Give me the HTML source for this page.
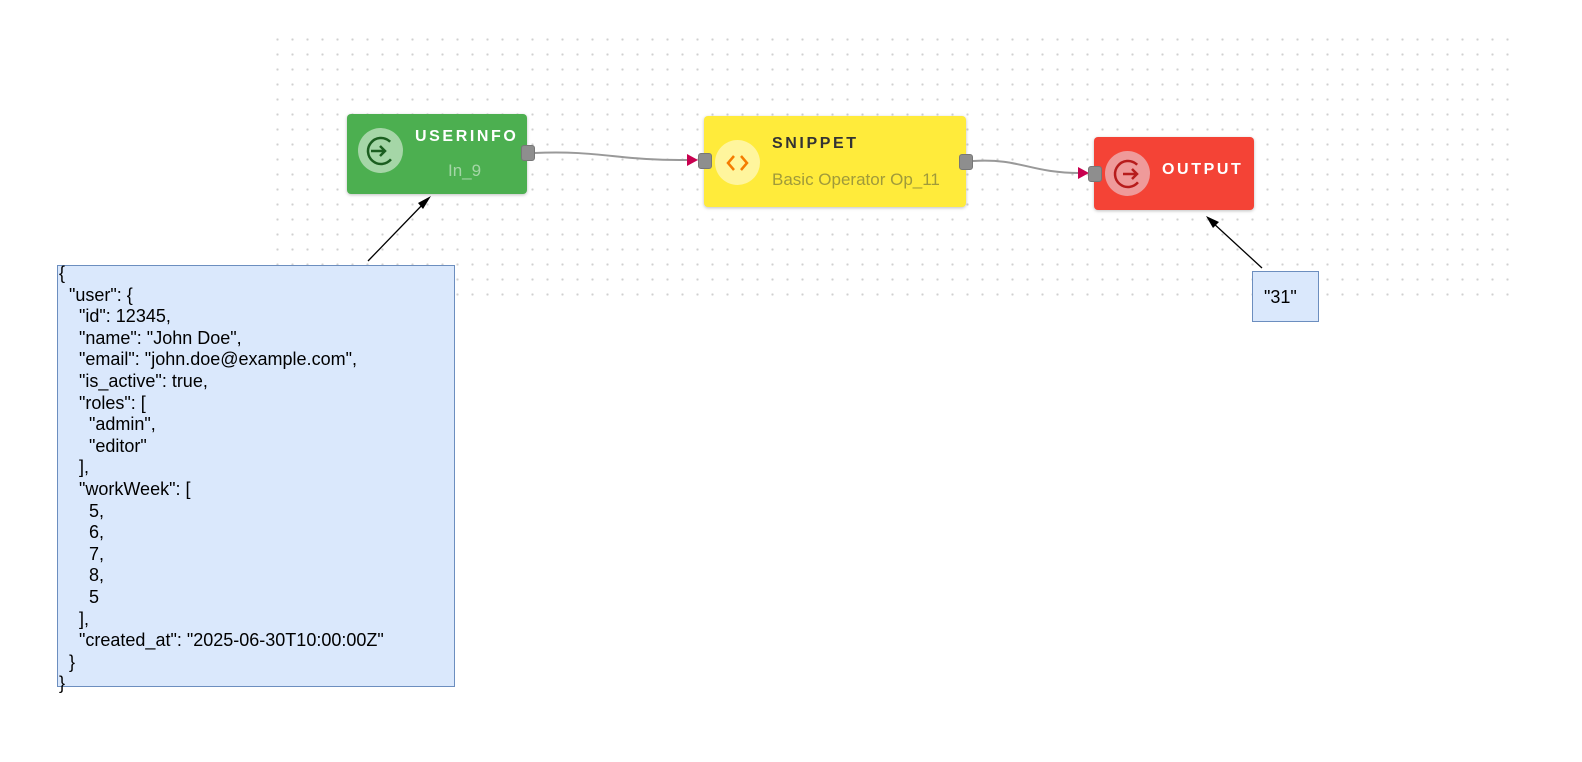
<!DOCTYPE html>
<html><head><style>
body{margin:0;width:1582px;height:762px;background:#fff;position:relative;overflow:hidden;font-family:"Liberation Sans",sans-serif}
.grid{position:absolute;left:270px;top:32px;width:1250px;height:270px;background-image:radial-gradient(circle,#d0d0d0 1px,transparent 1.3px);background-size:15px 15px}
.node{position:absolute;border-radius:4px;box-shadow:0 1px 3px rgba(0,0,0,.25)}
.ic{position:absolute;width:45px;height:45px;border-radius:50%}
.t{position:absolute;font-weight:bold;font-size:16px;letter-spacing:2.6px}
.port{position:absolute;width:12px;height:14px;background:#8e8e8e;border:1px solid #777;border-radius:3px}
.box{position:absolute;background:#dae8fc;border:1px solid #6c8ebf;box-sizing:border-box}
pre{margin:0;font-family:"Liberation Sans",sans-serif;font-size:18px;line-height:21.6px;position:absolute;left:1px;top:-3px}
</style></head><body>
<div class="grid"></div>
<svg width="1582" height="762" style="position:absolute;left:0;top:0">
<path d="M534 153 C600 150,620 161,688 160" stroke="#999" stroke-width="2" fill="none"/>
<path d="M973 161 C1020 158,1030 173,1080 173" stroke="#999" stroke-width="2" fill="none"/>
<polygon points="687,154 698,160 687,166" fill="#c8004f"/>
<polygon points="1078,167 1089,173 1078,179" fill="#c8004f"/>
<line x1="368" y1="261" x2="426" y2="201" stroke="#000" stroke-width="1.3"/>
<polygon points="431,196 423,209 418,203" fill="#000"/>
<line x1="1262" y1="268" x2="1212" y2="222" stroke="#000" stroke-width="1.3"/>
<polygon points="1206,216 1219,222 1213,228" fill="#000"/>
</svg>
<div class="node" style="left:347px;top:114px;width:180px;height:80px;background:#4caf50">
<div class="ic" style="left:11px;top:14px;background:#a5d6a7"><svg width="45" height="45"><circle cx="23" cy="23" r="13" fill="none" stroke="#1b5e20" stroke-width="2.5" stroke-dasharray="62 20" transform="rotate(40 23 23)"/><path d="M13 23h14M22 18l5 5-5 5" stroke="#1b5e20" stroke-width="2.5" fill="none"/></svg></div>
<div class="t" style="left:68px;top:14px;color:#fff">USERINFO</div>
<div style="position:absolute;left:101px;top:47px;color:#a5d6a7;font-size:17px">In_9</div>
</div>
<div class="port" style="left:521px;top:145px"></div>
<div class="node" style="left:704px;top:116px;width:262px;height:91px;background:#ffeb3b">
<div class="ic" style="left:11px;top:24px;background:#fff59d"><svg width="45" height="45"><path d="M19 16l-6 7 6 7M26 16l6 7-6 7" stroke="#f57c00" stroke-width="2.5" fill="none"/></svg></div>
<div class="t" style="left:68px;top:19px;color:#333">SNIPPET</div>
<div style="position:absolute;left:68px;top:54px;color:#a09a3a;font-size:17px">Basic Operator Op_11</div>
</div>
<div class="port" style="left:698px;top:153px"></div>
<div class="port" style="left:959px;top:154px"></div>
<div class="node" style="left:1094px;top:137px;width:160px;height:73px;background:#f44336">
<div class="ic" style="left:11px;top:14px;background:#ef9a9a"><svg width="45" height="45"><circle cx="23" cy="23" r="13" fill="none" stroke="#b71c1c" stroke-width="2.5" stroke-dasharray="62 20" transform="rotate(40 23 23)"/><path d="M18 23h14M27 18l5 5-5 5" stroke="#b71c1c" stroke-width="2.5" fill="none"/></svg></div>
<div class="t" style="left:68px;top:24px;color:#fff">OUTPUT</div>
</div>
<div class="port" style="left:1088px;top:166px"></div>
<div class="box" style="left:57px;top:265px;width:398px;height:422px"><pre>{
  "user": {
    "id": 12345,
    "name": "John Doe",
    "email": "john.doe@example.com",
    "is_active": true,
    "roles": [
      "admin",
      "editor"
    ],
    "workWeek": [
      5,
      6,
      7,
      8,
      5
    ],
    "created_at": "2025-06-30T10:00:00Z"
  }
}</pre></div>
<div class="box" style="left:1252px;top:271px;width:67px;height:51px"><div style="position:absolute;left:11px;top:15px;font-size:18px">"31"</div></div>
</body></html>
